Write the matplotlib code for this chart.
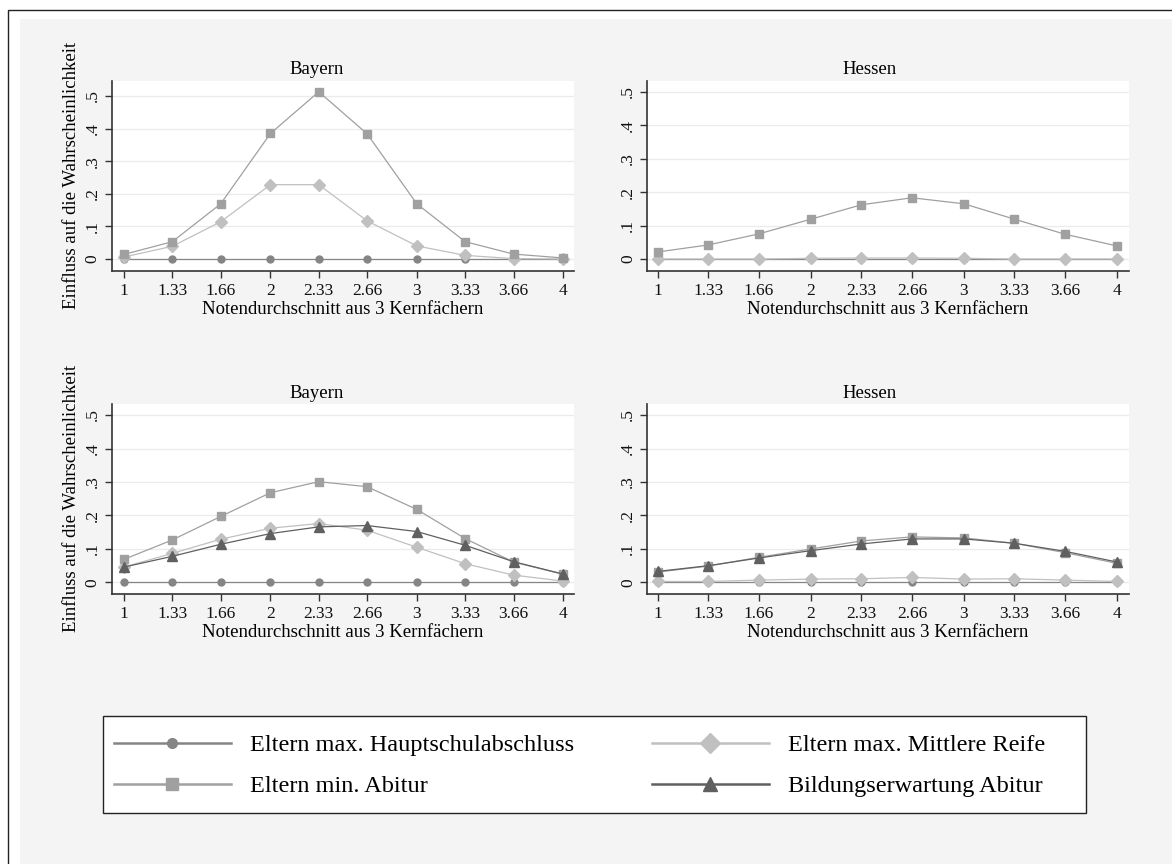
import matplotlib.pyplot as plt
from matplotlib.patches import Rectangle
from matplotlib.lines import Line2D

plt.rcParams['font.family'] = ['Liberation Serif', 'DejaVu Serif']

# x axis: Notendurchschnitt
noten = [1, 1.33, 1.66, 2, 2.33, 2.66, 3, 3.33, 3.66, 4]
noten_labels = ['1', '1.33', '1.66', '2', '2.33', '2.66', '3', '3.33', '3.66', '4']
y_ticks = [0, 0.1, 0.2, 0.3, 0.4, 0.5]
y_labels = ['0', '.1', '.2', '.3', '.4', '.5']

labels = ['Eltern max. Hauptschulabschluss', 'Eltern max. Mittlere Reife',
          'Eltern min. Abitur', 'Bildungserwartung Abitur']

# top row
bay_oben_haupt = [0, 0, 0, 0, 0, 0, 0, 0, 0, 0]
bay_oben_mittel = [0.006, 0.039, 0.114, 0.228, 0.228, 0.117, 0.040, 0.011, 0.001, 0.0]
bay_oben_abitur = [0.014, 0.053, 0.169, 0.385, 0.513, 0.384, 0.169, 0.053, 0.015, 0.003]

hes_oben_haupt = [0, 0, 0, 0, 0, 0, 0, 0, 0, 0]
hes_oben_mittel = [0.0, 0.0, 0.0, 0.002, 0.003, 0.003, 0.002, 0.0, 0.0, 0.0]
hes_oben_abitur = [0.021, 0.042, 0.075, 0.119, 0.162, 0.183, 0.165, 0.119, 0.074, 0.039]

# bottom row
bay_unten_haupt = [0, 0, 0, 0, 0, 0, 0, 0, 0, 0]
bay_unten_mittel = [0.046, 0.087, 0.129, 0.162, 0.176, 0.156, 0.105, 0.056, 0.022, 0.004]
bay_unten_abitur = [0.069, 0.127, 0.197, 0.268, 0.301, 0.286, 0.218, 0.131, 0.061, 0.024]
bay_unten_bildung = [0.046, 0.078, 0.114, 0.146, 0.166, 0.170, 0.152, 0.111, 0.062, 0.025]

hes_unten_haupt = [0, 0, 0, 0, 0, 0, 0, 0, 0, 0]
hes_unten_mittel = [0.003, 0.003, 0.007, 0.010, 0.011, 0.015, 0.010, 0.011, 0.007, 0.003]
hes_unten_abitur = [0.031, 0.049, 0.075, 0.100, 0.124, 0.136, 0.133, 0.117, 0.089, 0.057]
hes_unten_bildung = [0.033, 0.050, 0.073, 0.095, 0.115, 0.130, 0.130, 0.117, 0.093, 0.061]

# marker / colour per series (Stata s2mono look), ms in plot / in legend
styles = [
    dict(color='#858585', marker='o', ms=5, lms=7),
    dict(color='#c0c0c0', marker='D', ms=6.5, lms=10),
    dict(color='#a0a0a0', marker='s', ms=6, lms=9),
    dict(color='#606060', marker='^', ms=6.5, lms=10),
]

W, H = 1172, 864


def px_box(l, t, r, b):
    return [l / W, 1 - b / H, (r - l) / W, (b - t) / H]


fig = plt.figure(figsize=(W / 100, H / 100), dpi=100, facecolor='white')

# outer grey region and frame line
fig.add_artist(Rectangle((20 / W, -0.1), 1.2, 1.1 - 19 / H, transform=fig.transFigure,
                         fc='#f4f4f4', ec='none', zorder=-20))
fig.add_artist(Rectangle((8 / W, -0.1), 1.2, 1.1 - 10 / H, transform=fig.transFigure,
                         fc='none', ec='#222222', lw=1, zorder=-19))

panels = [
    (px_box(111.7, 80.7, 574.3, 270.7), 'Bayern', (0.916, 4.075), (-0.036, 0.547), True,
     [bay_oben_haupt, bay_oben_mittel, bay_oben_abitur]),
    (px_box(647, 80.7, 1129, 270.7), 'Hessen', (0.930, 4.078), (-0.035, 0.533), False,
     [hes_oben_haupt, hes_oben_mittel, hes_oben_abitur]),
    (px_box(111.7, 404, 574.3, 593.5), 'Bayern', (0.916, 4.075), (-0.033, 0.533), True,
     [bay_unten_haupt, bay_unten_mittel, bay_unten_abitur, bay_unten_bildung]),
    (px_box(647, 404, 1129, 593.5), 'Hessen', (0.930, 4.078), (-0.033, 0.533), False,
     [hes_unten_haupt, hes_unten_mittel, hes_unten_abitur, hes_unten_bildung]),
]

for rect, title, xlim, ylim, left, series in panels:
    ax = fig.add_axes(rect)
    ax.set_facecolor('white')
    for vals, st in zip(series, styles):
        ax.plot(noten, vals, color=st['color'], lw=0.9, marker=st['marker'],
                ms=st['ms'], mec=st['color'], mfc=st['color'])
    ax.set_xlim(*xlim)
    ax.set_ylim(*ylim)
    ax.set_xticks(noten)
    ax.set_xticklabels(noten_labels)
    ax.set_yticks(y_ticks)
    ax.set_yticklabels(y_labels, rotation=90, va='center')
    ax.yaxis.grid(True, color='#ebebeb', lw=0.9)
    ax.set_axisbelow(True)
    for s in ['top', 'right']:
        ax.spines[s].set_visible(False)
    for s in ['left', 'bottom']:
        ax.spines[s].set_color('#333333')
        ax.spines[s].set_linewidth(1.2)
    ax.tick_params(axis='both', direction='out', length=5, width=1, color='#333333',
                   labelsize=12.5, labelcolor='#111111')
    ax.tick_params(axis='x', pad=4)
    ax.tick_params(axis='y', pad=3)
    ax.set_xlabel('Notendurchschnitt aus 3 Kernfächern', fontsize=13.5, va='baseline')
    ax.xaxis.set_label_coords(0.5, -43.5 / 190)
    if left:
        ax.set_ylabel('Einfluss auf die Wahrscheinlichkeit', fontsize=13.5, va='center')
        ax.yaxis.set_label_coords(-40 / 462.6, 0.5)
        tx = (317 - 111.7) / 462.6
    else:
        tx = (870 - 647) / 482
    ax.set_title(title, fontsize=13.5, x=tx, y=1 + 11 / 190, va='center', pad=0)

# legend box
fig.add_artist(Rectangle((103 / W, 1 - 813 / H), (1086 - 103) / W, (813 - 716) / H,
                         transform=fig.transFigure, fc='white', ec='#222222', lw=1, zorder=1))

handles = [Line2D([], [], color=st['color'], lw=1.8, marker=st['marker'],
                  ms=st['lms'], mec=st['color'], mfc=st['color']) for st in styles]

leg_kw = dict(ncol=1, loc='upper left', frameon=False, fontsize=17.5, borderpad=0,
              handlelength=4.8, handletextpad=0.78, labelspacing=0.8, borderaxespad=0)
fig.legend([handles[0], handles[2]], [labels[0], labels[2]],
           bbox_to_anchor=(114 / W, 1 - 734 / H), **leg_kw)
fig.legend([handles[1], handles[3]], [labels[1], labels[3]],
           bbox_to_anchor=(652 / W, 1 - 734 / H), **leg_kw)

fig.savefig('out.png', dpi=100, facecolor=fig.get_facecolor())
